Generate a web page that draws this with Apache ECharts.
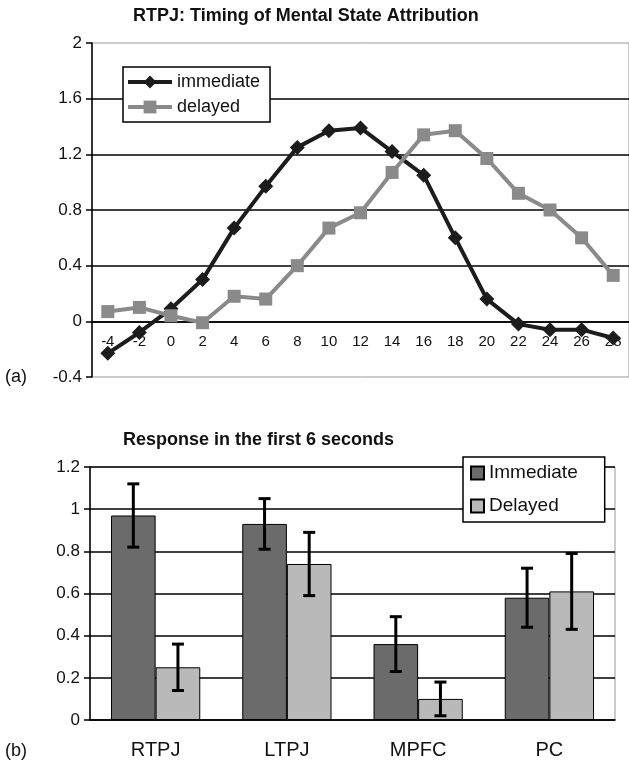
<!DOCTYPE html>
<html>
<head>
<meta charset="utf-8">
<script src="https://cdn.jsdelivr.net/npm/echarts@6/dist/echarts.min.js"></script>
<style>
  html, body {margin: 0; padding: 0; background: #fff;}
  #chart {width: 629px; height: 765px;}
</style>
</head>
<body>
<div id="chart"></div>
<script>
// (a) time course, seconds
const timeLabels = ['-4', '-2', '0', '2', '4', '6', '8', '10', '12', '14', '16', '18', '20', '22', '24', '26', '28'];
const immediateLine = [-0.23, -0.08, 0.09, 0.30, 0.67, 0.97, 1.25, 1.37, 1.39, 1.22, 1.05, 0.60, 0.16, -0.02, -0.06, -0.06, -0.12];
const delayedLine = [0.07, 0.10, 0.04, -0.01, 0.18, 0.16, 0.40, 0.67, 0.78, 1.07, 1.34, 1.37, 1.17, 0.92, 0.80, 0.60, 0.33];

// (b) first 6 seconds
const regions = ['RTPJ', 'LTPJ', 'MPFC', 'PC'];
const immediateBar = [0.97, 0.93, 0.36, 0.58];
const delayedBar = [0.25, 0.74, 0.10, 0.61];
const immediateErr = [0.15, 0.12, 0.13, 0.14];
const delayedErr = [0.11, 0.15, 0.08, 0.18];

const FONT = '"Liberation Sans", Arial, sans-serif';
const BAR_GAP = 0.32;

// top plot box: y from -0.4 to 2, x axis line sits on 0
const topMin = -0.4, topMax = 2, topH = 334;
const zeroOffset = -topH * (0 - topMin) / (topMax - topMin);

function errorBars(values, errs, side) {
  return {
    type: 'custom',
    xAxisIndex: 1,
    yAxisIndex: 1,
    z: 5,
    data: values.map((v, i) => [i, v, errs[i]]),
    renderItem: function (params, api) {
      const band = api.size([1, 0])[0];
      const barW = band * (1 - BAR_GAP) / 2;
      const top = api.coord([api.value(0), api.value(1) + api.value(2)]);
      const bot = api.coord([api.value(0), api.value(1) - api.value(2)]);
      const x = top[0] + side * barW / 2;
      const cap = 6;
      const st = {stroke: '#000', lineWidth: 3};
      return {
        type: 'group',
        children: [
          {type: 'line', shape: {x1: x, y1: top[1], x2: x, y2: bot[1]}, style: st},
          {type: 'line', shape: {x1: x - cap, y1: top[1], x2: x + cap, y2: top[1]}, style: st},
          {type: 'line', shape: {x1: x - cap, y1: bot[1], x2: x + cap, y2: bot[1]}, style: st}
        ]
      };
    }
  };
}

const chart = echarts.init(document.getElementById('chart'));

const option = {
  animation: false,
  backgroundColor: '#fff',
  textStyle: {fontFamily: FONT},
  title: [
    {
      text: 'RTPJ: Timing of Mental State Attribution',
      left: 133, top: 7, padding: 0,
      textStyle: {fontFamily: FONT, fontSize: 18, fontWeight: 'bold', color: '#111'}
    },
    {
      text: 'Response in the first 6 seconds',
      left: 123, top: 431, padding: 0,
      textStyle: {fontFamily: FONT, fontSize: 18, fontWeight: 'bold', color: '#111'}
    }
  ],
  legend: [
    {
      data: ['immediate', 'delayed'],
      orient: 'vertical',
      left: 123, top: 67,
      padding: [5, 10, 5, 3],
      itemWidth: 44, itemHeight: 16, itemGap: 5,
      lineStyle: {width: 4},
      backgroundColor: '#fff',
      borderColor: '#000', borderWidth: 1.5,
      textStyle: {fontFamily: FONT, fontSize: 18, color: '#111', lineHeight: 20}
    },
    {
      data: ['Immediate', 'Delayed'],
      orient: 'vertical',
      left: 463, top: 457,
      padding: [5, 27, 5, 7],
      icon: 'rect',
      itemWidth: 13, itemHeight: 13, itemGap: 11,
      backgroundColor: '#fff',
      borderColor: '#000', borderWidth: 1.5,
      textStyle: {fontFamily: FONT, fontSize: 19, color: '#111', lineHeight: 22}
    }
  ],
  grid: [
    {left: 92, top: 43, width: 538, height: topH, show: true, borderColor: '#999', borderWidth: 1},
    {left: 90, top: 467, width: 525, height: 253, show: true, borderColor: '#999', borderWidth: 1}
  ],
  xAxis: [
    {
      type: 'category', gridIndex: 0, data: timeLabels, boundaryGap: true,
      offset: zeroOffset,
      axisLine: {onZero: false, lineStyle: {color: '#000', width: 1.5}},
      axisTick: {length: 5, lineStyle: {color: '#000', width: 1.5}},
      axisLabel: {margin: 13, fontFamily: FONT, fontSize: 15, color: '#111', interval: 0}
    },
    {
      type: 'category', gridIndex: 1, data: regions,
      axisLine: {lineStyle: {color: '#000', width: 1.5}},
      axisTick: {length: 6, lineStyle: {color: '#000', width: 1.5}},
      axisLabel: {margin: 20, fontFamily: FONT, fontSize: 20, color: '#111'}
    }
  ],
  yAxis: [
    {
      type: 'value', gridIndex: 0, min: topMin, max: topMax, interval: 0.4,
      axisLine: {show: true, lineStyle: {color: '#000', width: 1.5}},
      axisTick: {show: true, length: 6, lineStyle: {color: '#000', width: 1.5}},
      axisLabel: {margin: 10, fontFamily: FONT, fontSize: 17, color: '#111'},
      splitLine: {showMinLine: false, showMaxLine: false, lineStyle: {color: '#000', width: 1.5}}
    },
    {
      type: 'value', gridIndex: 1, min: 0, max: 1.2, interval: 0.2,
      axisLine: {show: true, lineStyle: {color: '#000', width: 1.5}},
      axisTick: {show: true, length: 6, lineStyle: {color: '#000', width: 1.5}},
      axisLabel: {margin: 10, fontFamily: FONT, fontSize: 17, color: '#111'},
      splitLine: {lineStyle: {color: '#000', width: 1.5}}
    }
  ],
  graphic: [
    {type: 'text', left: 5, top: 368, style: {text: '(a)', font: '18px ' + FONT, fill: '#111'}},
    {type: 'text', left: 5, top: 742, style: {text: '(b)', font: '18px ' + FONT, fill: '#111'}}
  ],
  series: [
    {
      name: 'immediate', type: 'line', xAxisIndex: 0, yAxisIndex: 0,
      data: immediateLine,
      symbol: 'diamond', symbolSize: 15,
      lineStyle: {color: '#1c1c1c', width: 4},
      itemStyle: {color: '#1c1c1c'}
    },
    {
      name: 'delayed', type: 'line', xAxisIndex: 0, yAxisIndex: 0,
      data: delayedLine,
      symbol: 'rect', symbolSize: 13,
      lineStyle: {color: '#8a8a8a', width: 4},
      itemStyle: {color: '#8a8a8a'}
    },
    {
      name: 'Immediate', type: 'bar', xAxisIndex: 1, yAxisIndex: 1,
      data: immediateBar,
      barGap: '0%', barCategoryGap: (BAR_GAP * 100) + '%',
      itemStyle: {color: '#6b6b6b', borderColor: '#000', borderWidth: 1}
    },
    {
      name: 'Delayed', type: 'bar', xAxisIndex: 1, yAxisIndex: 1,
      data: delayedBar,
      barGap: '0%', barCategoryGap: (BAR_GAP * 100) + '%',
      itemStyle: {color: '#b9b9b9', borderColor: '#000', borderWidth: 1}
    },
    errorBars(immediateBar, immediateErr, -1),
    errorBars(delayedBar, delayedErr, 1)
  ]
};

chart.setOption(option);
</script>
</body>
</html>
